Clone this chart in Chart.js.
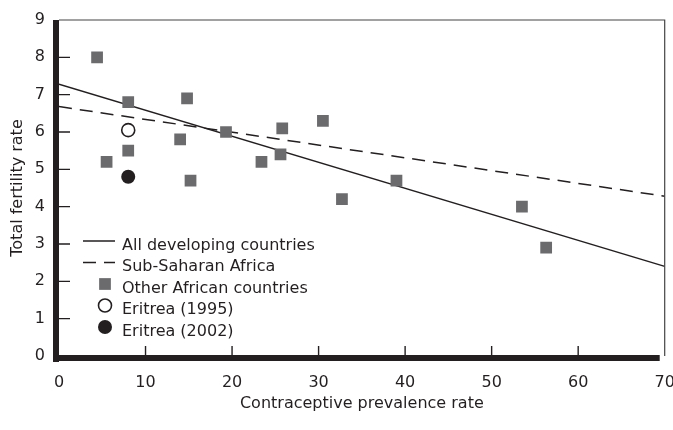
<!DOCTYPE html>
<html>
<head>
<meta charset="utf-8">
<script src="https://cdn.jsdelivr.net/npm/chart.js@4.4.0/dist/chart.umd.min.js"></script>
<style>
  html, body { margin: 0; padding: 0; background: #fff; }
  #wrap { width: 673px; height: 430px; position: relative; }
</style>
</head>
<body>
<div id="wrap"><canvas id="chart"></canvas></div>
<script>
// values
const xTicks = [0, 10, 20, 30, 40, 50, 60, 70];
const yTicks = [0, 1, 2, 3, 4, 5, 6, 7, 8, 9];

const otherX = [4.4, 8.0, 5.5, 8.0, 14.8, 14.0, 15.2, 19.3, 23.4, 25.6, 25.8, 30.5, 32.7, 39.0, 53.5, 56.3];
const otherY = [8.0, 6.8, 5.2, 5.5, 6.9, 5.8, 4.7, 6.0, 5.2, 5.4, 6.1, 6.3, 4.2, 4.7, 4.0, 2.9];

const eritrea1995 = [{ x: 8.0, y: 6.05 }];
const eritrea2002 = [{ x: 8.0, y: 4.8 }];

// fitted lines, end points
const allDevX = [0, 70];
const allDevY = [7.28, 2.4];
const ssaX = [0, 70];
const ssaY = [6.68, 4.28];

const seriesLabels = ['All developing countries', 'Sub-Saharan Africa', 'Other African countries', 'Eritrea (1995)', 'Eritrea (2002)'];

const INK = '#231f20';
const GREY = '#6b6b6e';
const FONT = 'DejaVu Sans';

const toPts = (xs, ys) => xs.map((x, i) => ({ x: x, y: ys[i] }));

// thick left/bottom axis, thin top/right frame, inward ticks
const framePlugin = {
  id: 'frame',
  afterDraw(chart) {
    const { ctx, chartArea: a, scales } = chart;
    ctx.save();
    ctx.fillStyle = INK;
    ctx.fillRect(a.left - 6, a.top, 6, a.bottom - a.top + 6);
    ctx.fillRect(a.left - 6, a.bottom - 1, a.right - a.left + 1, 6);
    ctx.strokeStyle = '#444';
    ctx.lineWidth = 1.2;
    ctx.beginPath();
    ctx.moveTo(a.left, a.top);
    ctx.lineTo(a.right, a.top);
    ctx.lineTo(a.right, a.bottom);
    ctx.stroke();
    ctx.strokeStyle = INK;
    ctx.lineWidth = 1.4;
    ctx.beginPath();
    yTicks.slice(1, -1).forEach(v => {
      const y = scales.y.getPixelForValue(v);
      ctx.moveTo(a.left, y);
      ctx.lineTo(a.left + 11, y);
    });
    xTicks.slice(1, -1).forEach(v => {
      const x = scales.x.getPixelForValue(v);
      ctx.moveTo(x, a.bottom);
      ctx.lineTo(x, a.bottom - 10);
    });
    ctx.stroke();
    ctx.restore();
  }
};

const legendPlugin = {
  id: 'insideLegend',
  afterDraw(chart) {
    const { ctx, chartArea: a } = chart;
    const x0 = a.left + 24;
    let y = a.bottom - 115;
    ctx.save();
    ctx.font = '16px "' + FONT + '"';
    ctx.textBaseline = 'middle';
    chart.data.datasets.forEach(ds => {
      if (ds.type === 'line') {
        ctx.strokeStyle = ds.borderColor;
        ctx.lineWidth = ds.borderWidth;
        ctx.setLineDash(ds.borderDash || []);
        ctx.beginPath();
        ctx.moveTo(x0, y);
        ctx.lineTo(x0 + 32, y);
        ctx.stroke();
        ctx.setLineDash([]);
      } else {
        ctx.fillStyle = ds.pointBackgroundColor;
        ctx.strokeStyle = ds.pointBorderColor;
        ctx.lineWidth = ds.pointBorderWidth;
        Chart.helpers.drawPoint(ctx, {
          pointStyle: ds.pointStyle,
          radius: ds.pointRadius,
          borderWidth: ds.pointBorderWidth,
          rotation: 0
        }, x0 + 22, y);
      }
      ctx.fillStyle = INK;
      ctx.fillText(ds.label, x0 + 39, y + 4.5);
      y += 21.5;
    });
    ctx.restore();
  }
};

new Chart(document.getElementById('chart'), {
  type: 'scatter',
  data: {
    datasets: [
      {
        type: 'line',
        label: seriesLabels[0],
        data: toPts(allDevX, allDevY),
        borderColor: INK,
        borderWidth: 1.5,
        pointRadius: 0,
        fill: false,
        order: 3
      },
      {
        type: 'line',
        label: seriesLabels[1],
        data: toPts(ssaX, ssaY),
        borderColor: INK,
        borderWidth: 1.5,
        borderDash: [13, 8],
        pointRadius: 0,
        fill: false,
        order: 4
      },
      {
        label: seriesLabels[2],
        data: toPts(otherX, otherY),
        pointStyle: 'rect',
        pointRadius: 8.3,
        pointBackgroundColor: GREY,
        pointBorderColor: GREY,
        pointBorderWidth: 0,
        order: 2
      },
      {
        label: seriesLabels[3],
        data: eritrea1995,
        pointStyle: 'circle',
        pointRadius: 6.5,
        pointBackgroundColor: '#fff',
        pointBorderColor: INK,
        pointBorderWidth: 1.6,
        order: 1
      },
      {
        label: seriesLabels[4],
        data: eritrea2002,
        pointStyle: 'circle',
        pointRadius: 7,
        pointBackgroundColor: INK,
        pointBorderColor: INK,
        pointBorderWidth: 0,
        order: 0
      }
    ]
  },
  options: {
    responsive: true,
    maintainAspectRatio: false,
    animation: false,
    events: [],
    layout: { padding: { left: 0, right: 8, top: 20, bottom: 0 } },
    plugins: {
      legend: { display: false },
      tooltip: { enabled: false }
    },
    scales: {
      x: {
        type: 'linear',
        min: xTicks[0],
        max: xTicks[xTicks.length - 1],
        border: { display: false },
        grid: { display: false, drawTicks: false },
        afterBuildTicks: s => { s.ticks = xTicks.map(v => ({ value: v })); },
        afterFit: s => { s.height = 74; s.paddingLeft = 0; s.paddingRight = 0; },
        ticks: {
          color: INK,
          font: { family: FONT, size: 16 },
          padding: 17,
          maxRotation: 0,
          autoSkip: false
        },
        title: {
          display: true,
          text: 'Contraceptive prevalence rate',
          color: INK,
          font: { family: FONT, size: 16 },
          padding: { top: 0, bottom: 17 }
        }
      },
      y: {
        type: 'linear',
        min: yTicks[0],
        max: yTicks[yTicks.length - 1],
        border: { display: false },
        grid: { display: false, drawTicks: false },
        afterBuildTicks: s => { s.ticks = yTicks.map(v => ({ value: v })); },
        afterFit: s => { s.width = 59; s.paddingTop = 0; s.paddingBottom = 0; },
        ticks: {
          color: INK,
          font: { family: FONT, size: 16 },
          padding: 14,
          autoSkip: false
        },
        title: {
          display: true,
          text: 'Total fertility rate',
          color: INK,
          font: { family: FONT, size: 16 },
          padding: { top: 8, bottom: 0 }
        }
      }
    }
  },
  plugins: [framePlugin, legendPlugin]
});
</script>
</body>
</html>
